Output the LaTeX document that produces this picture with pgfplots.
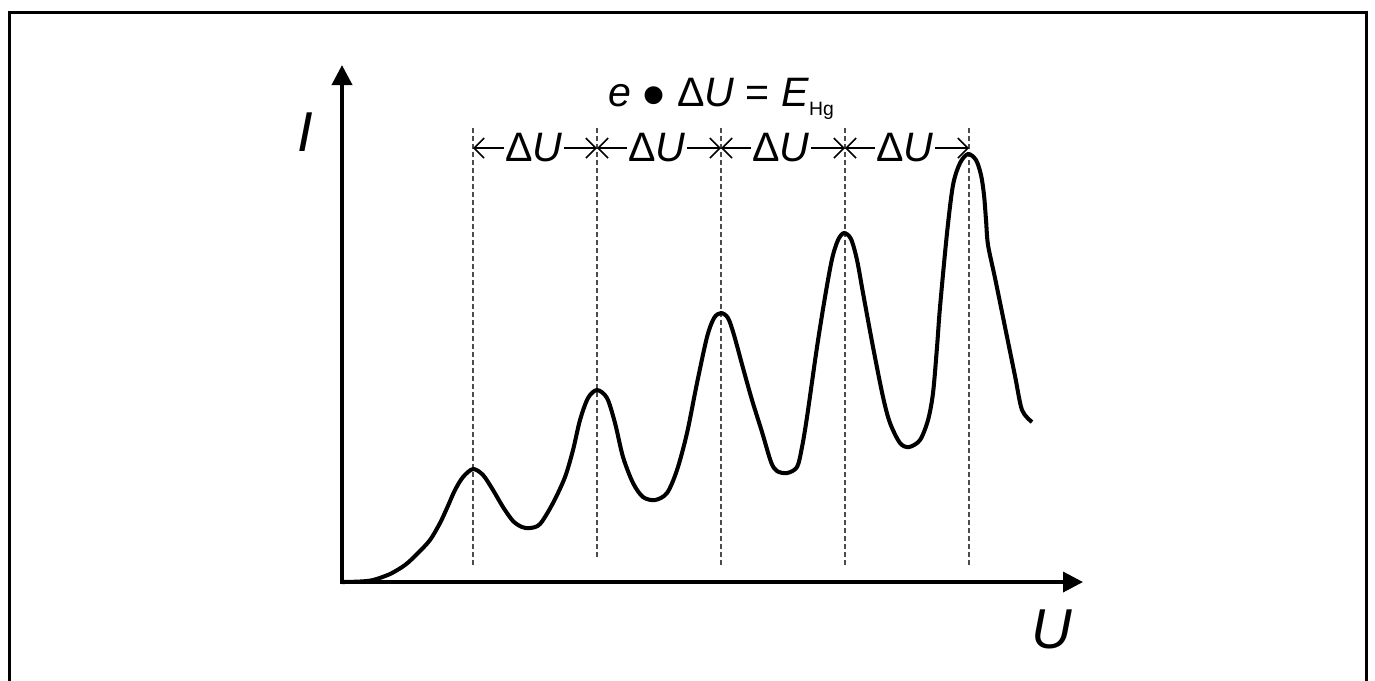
\documentclass[border=0pt]{standalone}
\usepackage{pgfplots}
\pgfplotsset{compat=1.18}
\usepackage{fontspec}
\setmainfont{Liberation Sans}
\usetikzlibrary{arrows.meta}
\begin{document}
\begin{tikzpicture}
\useasboundingbox (0,0) rectangle (13.75cm,6.8cm);
\begin{axis}[width=13.75cm,height=6.8cm,scale only axis,
  xmin=0,xmax=1375,ymin=0,ymax=680,y dir=reverse,hide axis,clip=true]
% frame
\addplot[black,line width=0.85pt] coordinates {(9.5,700) (9.5,12) (1366,12) (1366,700)};
% dashed guides
\addplot[black!70,line width=0.3pt,dash pattern=on 0.45mm off 0.35mm] coordinates {(473,128) (473,566)};
\addplot[black!70,line width=0.3pt,dash pattern=on 0.45mm off 0.35mm] coordinates {(597,128) (597,560)};
\addplot[black!70,line width=0.3pt,dash pattern=on 0.45mm off 0.35mm] coordinates {(721,128) (721,566)};
\addplot[black!70,line width=0.3pt,dash pattern=on 0.45mm off 0.35mm] coordinates {(845,128) (845,566)};
\addplot[black!70,line width=0.3pt,dash pattern=on 0.45mm off 0.35mm] coordinates {(969,128) (969,566)};
% axes
\addplot[black,line width=1.1pt,-{Triangle[length=2mm,width=2mm]}] coordinates {(342,584) (342,65)};
\addplot[black,line width=1.0pt,-{Triangle[length=2mm,width=2mm]}] coordinates {(340.5,582) (1083,582)};
% curve
\addplot[black,line width=1.15pt,smooth,tension=0.5] coordinates {
(342,582) (360,581.5) (373,580) (390,574) (405,565) (417,554) (430,540) (440,523) (447,508) (455,490) (463,477) (473,469)
(483,475) (493,490) (503,507) (513,521) (522,527) (530,528) (540,524) (553,503) (565,477) (573,450) (580,420) (588,398) (597,390)
(607,398) (615,423) (623,457) (633,483) (643,497) (655,500) (667,493) (677,470) (687,433) (697,383) (707,337) (714,318) (721,313)
(728,318) (734,335) (743,368) (752,400) (762,432) (771,462) (777,471) (787,473) (797,467) (802,447) (807,417) (817,347) (825,297) (832,259) (838,240) (844,233)
(851,239) (857,260) (863,293) (873,347) (883,397) (890,423) (900,443) (909,447) (920,440) (928,420) (933,393) (937,347) (940,307) (947,233) (953,185) (960,163) (968,154)
(976,160) (981,175) (984,195) (986,220) (988,245) (995,278) (1005,327) (1015,376) (1022,410) (1032,422)};
% delta U arrows
\addplot[black,line width=0.45pt,{Straight Barb[length=1mm,width=2mm]}-{Straight Barb[length=1mm,width=2mm]}] coordinates {(473,148) (597,148)};
\addplot[black,line width=0.45pt,{Straight Barb[length=1mm,width=2mm]}-{Straight Barb[length=1mm,width=2mm]}] coordinates {(597,148) (721,148)};
\addplot[black,line width=0.45pt,{Straight Barb[length=1mm,width=2mm]}-{Straight Barb[length=1mm,width=2mm]}] coordinates {(721,148) (845,148)};
\addplot[black,line width=0.45pt,{Straight Barb[length=1mm,width=2mm]}-{Straight Barb[length=1mm,width=2mm]}] coordinates {(845,148) (969,148)};
\node[fill=white,inner sep=0.3pt,anchor=base,font=\fontsize{11.7}{13}\selectfont] at (axis cs:534,161) {Δ\textit{U}};
\node[fill=white,inner sep=0.3pt,anchor=base,font=\fontsize{11.7}{13}\selectfont] at (axis cs:657,161) {Δ\textit{U}};
\node[fill=white,inner sep=0.3pt,anchor=base,font=\fontsize{11.7}{13}\selectfont] at (axis cs:781,161) {Δ\textit{U}};
\node[fill=white,inner sep=0.3pt,anchor=base,font=\fontsize{11.7}{13}\selectfont] at (axis cs:905,161) {Δ\textit{U}};
% title
\node[anchor=base,inner sep=0pt,font=\fontsize{11.7}{13}\selectfont] at (axis cs:721,106) {\textit{e} \raisebox{-3.2pt}{\scalebox{1.6}{•}} Δ\textit{U} = \textit{E}\raisebox{-2.6pt}{\fontsize{5.5}{6}\selectfont Hg}};
% axis labels
\node[inner sep=0pt,font=\fontsize{16}{18}\selectfont\itshape] at (axis cs:305,132) {I};
\node[inner sep=0pt,font=\fontsize{16}{18}\selectfont\itshape] at (axis cs:1052,629) {U};
\end{axis}
\end{tikzpicture}
\end{document}
